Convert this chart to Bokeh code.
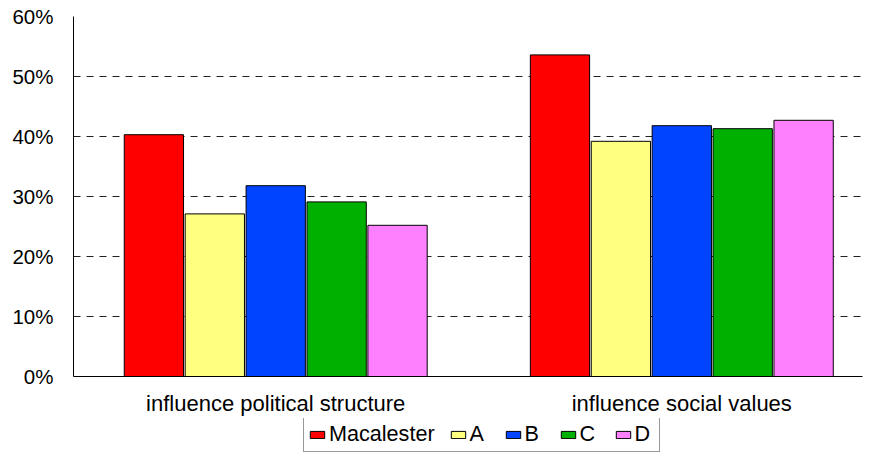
from bokeh.plotting import figure
from bokeh.models import Range1d, FixedTicker, NumeralTickFormatter, Legend, LegendItem, ColumnDataSource, Grid
from bokeh.layouts import column
from bokeh.embed import file_html
from bokeh.resources import INLINE

categories = ["influence political structure", "influence social values"]
series = ["Macalester", "A", "B", "C", "D"]
macalester = [0.403, 0.536]
a_vals = [0.271, 0.392]
b_vals = [0.318, 0.418]
c_vals = [0.291, 0.413]
d_vals = [0.252, 0.427]
colors = ["#FF0000", "#FFFF80", "#0044FF", "#00B000", "#FF80FF"]
y_ticks = [0, 0.1, 0.2, 0.3, 0.4, 0.5, 0.6]

values = [macalester, a_vals, b_vals, c_vals, d_vals]

FONT = "Liberation Sans"
step = 0.15
bar_w = 0.146

p = figure(width=866, height=418, output_backend="svg", toolbar_location=None,
           x_range=Range1d(-0.498, 1.445), y_range=Range1d(0, 0.6),
           min_border_left=73, min_border_top=16, min_border_right=4, min_border_bottom=42)
p.outline_line_color = None
p.background_fill_color = "white"

# legend strip below the chart (its view window lies away from the bars,
# so only the legend itself is visible there)
lp = figure(width=866, height=35, output_backend="svg", toolbar_location=None,
            x_range=Range1d(-0.498, 1.445), y_range=Range1d(10, 11),
            x_axis_location=None, y_axis_location=None,
            min_border_left=0, min_border_right=0, min_border_top=0, min_border_bottom=0)
lp.outline_line_color = None
lp.xgrid.visible = False
lp.ygrid.visible = False

items = []
for i, (name, vals, col) in enumerate(zip(series, values, colors)):
    xs = [g + (i - 2) * step for g in range(len(categories))]
    src = ColumnDataSource(dict(x=xs, top=vals))
    p.vbar(x="x", top="top", width=bar_w, bottom=0, source=src,
           fill_color=col, line_color="black", line_width=1)
    r = lp.vbar(x="x", top="top", width=bar_w, bottom=0, source=src,
                fill_color=col, line_color="black", line_width=1)
    items.append(LegendItem(label=name, renderers=[r]))

# axes
p.xaxis.ticker = FixedTicker(ticks=list(range(len(categories))))
p.xaxis.major_label_overrides = {i: c for i, c in enumerate(categories)}
p.xaxis.major_tick_line_color = None
p.xaxis.minor_tick_line_color = None
p.xaxis.major_tick_out = 0
p.xaxis.major_label_standoff = 14
p.xaxis.major_label_text_font = FONT
p.xaxis.major_label_text_font_size = "22px"
p.xaxis.major_label_text_color = "black"
p.xaxis.axis_line_color = "black"

p.yaxis.ticker = FixedTicker(ticks=y_ticks)
p.yaxis.formatter = NumeralTickFormatter(format="0%")
p.yaxis.major_tick_line_color = None
p.yaxis.minor_tick_line_color = None
p.yaxis.major_tick_out = 0
p.yaxis.major_label_standoff = 20
p.yaxis.major_label_text_font = FONT
p.yaxis.major_label_text_font_size = "20.5px"
p.yaxis.major_label_text_color = "black"
p.yaxis.axis_line_color = "black"

p.xgrid.grid_line_color = None
# solid grey top border line under the dashed 60% gridline
p.ygrid.ticker = FixedTicker(ticks=[y_ticks[-1]])
p.ygrid.grid_line_color = "#A0A0A0"
p.ygrid.grid_line_width = 1
dash_grid = Grid(dimension=1, ticker=FixedTicker(ticks=y_ticks[1:]),
                 grid_line_color="#222222", grid_line_dash="7 6", grid_line_width=1)
p.add_layout(dash_grid)

legend = Legend(items=items, orientation="horizontal", location=(230, 1),
                label_text_font=FONT, label_text_font_size="21.6px", label_text_color="black",
                glyph_width=18, glyph_height=9, label_standoff=3, spacing=14, label_width=20,
                padding=4, margin=0, border_line_color="#333333", border_line_width=1,
                background_fill_color="white", background_fill_alpha=1)
lp.add_layout(legend, "center")

layout = column(p, lp, spacing=0)
open("out.html", "w").write(file_html(layout, INLINE))
